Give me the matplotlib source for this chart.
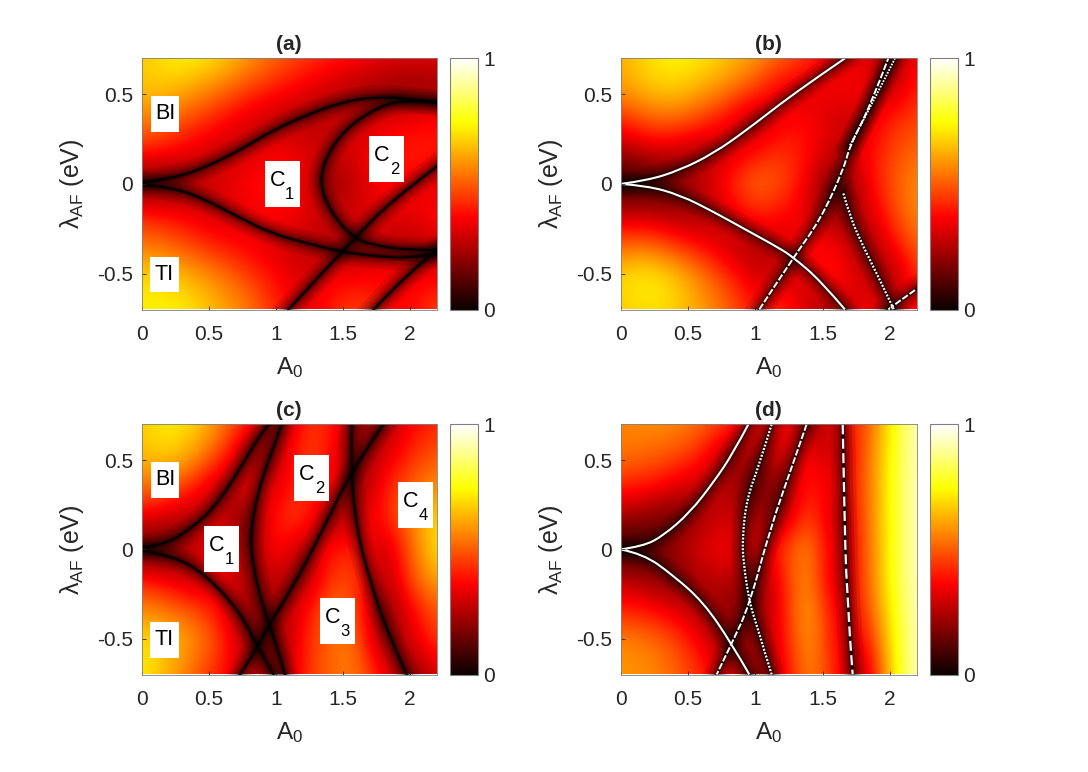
import numpy as np
import matplotlib
matplotlib.use("Agg")
import matplotlib.pyplot as plt
from matplotlib.patches import PathPatch, Rectangle
from matplotlib.path import Path

plt.rcParams['font.family'] = ['Liberation Sans', 'DejaVu Sans']
plt.rcParams['mathtext.fontset'] = 'custom'
plt.rcParams['mathtext.rm'] = 'Liberation Sans'
plt.rcParams['mathtext.default'] = 'regular'

# gap size, on a coarse grid
A0_nodes = [0, 0.2, 0.4, 0.6, 0.8, 1.0, 1.2, 1.4, 1.6, 1.8, 2.0, 2.2]
lam_nodes = [0.7, 0.525, 0.35, 0.175, 0, -0.175, -0.35, -0.525, -0.7]

gap_a = [
    [.66, .72, .74, .68, .60, .52, .46, .42, .38, .34, .33, .33],
    [.66, .66, .60, .54, .46, .40, .34, .28, .24, .20, .18, .20],
    [.56, .52, .46, .38, .30, .26, .24, .27, .28, .33, .35, .38],
    [.42, .38, .32, .27, .30, .36, .34, .28, .33, .38, .42, .40],
    [.12, .14, .24, .33, .38, .40, .34, .18, .28, .38, .36, .30],
    [.42, .38, .33, .28, .34, .38, .34, .28, .32, .33, .32, .40],
    [.55, .52, .46, .40, .35, .30, .28, .24, .22, .28, .25, .28],
    [.70, .68, .62, .55, .46, .38, .30, .35, .36, .38, .36, .35],
    [.72, .74, .70, .62, .55, .42, .32, .40, .48, .38, .35, .48],
]
gap_b = [
    [.62, .70, .74, .72, .66, .60, .52, .44, .28, .36, .22, .36],
    [.60, .66, .68, .62, .56, .46, .32, .30, .38, .36, .24, .42],
    [.42, .50, .52, .46, .35, .22, .35, .38, .28, .28, .42, .47],
    [.22, .30, .28, .22, .28, .38, .45, .38, .28, .35, .46, .52],
    [.04, .05, .15, .28, .42, .54, .48, .34, .08, .32, .48, .58],
    [.28, .28, .22, .22, .30, .42, .38, .30, .18, .26, .44, .58],
    [.52, .54, .46, .38, .28, .22, .30, .40, .38, .18, .34, .52],
    [.70, .74, .68, .56, .44, .30, .28, .30, .42, .30, .18, .44],
    [.66, .70, .68, .60, .52, .38, .46, .28, .20, .38, .30, .38],
]
gap_c = [
    [.66, .74, .68, .56, .42, .16, .42, .44, .20, .22, .36, .42],
    [.65, .68, .60, .46, .16, .24, .48, .40, .18, .30, .42, .50],
    [.54, .52, .42, .22, .35, .30, .45, .40, .16, .40, .50, .58],
    [.36, .28, .22, .30, .14, .42, .48, .18, .30, .40, .55, .70],
    [.08, .12, .30, .40, .14, .45, .20, .40, .42, .24, .50, .72],
    [.42, .34, .24, .35, .24, .28, .20, .45, .48, .20, .48, .62],
    [.58, .55, .50, .35, .18, .22, .35, .55, .48, .14, .35, .50],
    [.72, .66, .58, .45, .20, .16, .40, .52, .56, .16, .30, .45],
    [.72, .62, .50, .38, .28, .16, .42, .52, .55, .38, .14, .32],
]
gap_d = [
    [.56, .58, .58, .52, .46, .28, .40, .16, .35, .45, .72, .95],
    [.54, .52, .48, .42, .20, .24, .28, .38, .25, .48, .74, .95],
    [.42, .40, .34, .26, .26, .14, .18, .44, .30, .48, .75, .95],
    [.24, .18, .12, .22, .32, .20, .22, .52, .22, .48, .75, .95],
    [.02, .08, .24, .33, .38, .26, .46, .60, .25, .46, .75, .95],
    [.28, .22, .14, .24, .28, .14, .40, .62, .22, .46, .75, .95],
    [.42, .40, .34, .22, .20, .16, .38, .66, .30, .42, .72, .95],
    [.58, .55, .48, .36, .16, .20, .36, .64, .34, .32, .70, .95],
    [.58, .58, .52, .42, .32, .16, .32, .60, .40, .20, .68, .95],
]

# gap closing curves, (A0, lambda)
a_upper = [(0, .008), (.236, .03), (.485, .096), (.733, .189), (.982, .30), (1.23, .384), (1.48, .453), (1.73, .486), (1.98, .477), (2.2, .449)]
a_lower = [(0, -.003), (.236, -.02), (.485, -.09), (.733, -.19), (.982, -.28), (1.23, -.33), (1.48, -.378), (1.73, -.402), (1.98, -.415), (2.2, -.39)]
a_arc = [(2.2, .458), (1.98, .464), (1.83, .449), (1.60, .356), (1.43, .226), (1.33, .059), (1.355, -.072), (1.454, -.202), (1.59, -.304), (1.73, -.341), (1.98, -.369), (2.2, -.369)]
a_diag = [(1.094, -.70), (1.48, -.388), (1.59, -.304), (1.85, -.10), (2.2, .096)]
a_corner = [(1.73, -.70), (1.98, -.50), (2.2, -.369)]

b_upper = [(0, 0), (.193, .018), (.441, .077), (.689, .170), (.936, .300), (1.184, .445), (1.432, .579), (1.667, .70)]
b_lower = [(0, 0), (.193, -.010), (.441, -.062), (.689, -.155), (.936, -.258), (1.184, -.36), (1.283, -.41), (1.481, -.536), (1.667, -.70)]
b_diag = [(1.03, -.70), (1.283, -.41), (1.481, -.203), (1.655, .077), (1.704, .215), (1.853, .43), (1.989, .70)]
b_diag2 = [(1.704, .215), (1.878, .458), (2.039, .70)]
b_right = [(1.655, -.053), (1.704, -.183), (1.803, -.35), (1.927, -.536), (2.03, -.70)]
b_corner = [(1.989, -.70), (2.039, -.67), (2.2, -.585)]

c_upper = [(0, .007), (.186, .031), (.360, .114), (.534, .226), (.733, .449), (.858, .616), (.945, .70)]
c_lower = [(0, -.007), (.236, -.034), (.485, -.146), (.733, -.35), (.858, -.536), (.982, -.70)]
c_arc = [(1.044, .70), (.957, .523), (.858, .30), (.808, .077), (.833, -.109), (.907, -.332), (1.007, -.536), (1.069, -.70)]
c_diag = [(.733, -.70), (.858, -.555), (.945, -.425), (1.106, -.239), (1.355, .114), (1.554, .43), (1.802, .70)]
c_right = [(1.566, .70), (1.559, .43), (1.603, .114), (1.703, -.183), (1.852, -.499), (1.976, -.70)]

d_upper = [(0, 0), (.168, .018), (.317, .077), (.515, .207), (.689, .375), (.837, .54), (.949, .70)]
d_lower = [(0, 0), (.168, -.025), (.391, -.146), (.614, -.295), (.825, -.527), (.956, -.70)]
d_arc = [(1.122, .70), (1.035, .486), (.936, .282), (.904, .059), (.912, -.072), (.956, -.295), (1.011, -.425), (1.122, -.70)]
d_diag = [(1.382, .70), (1.283, .486), (1.110, .114), (.956, -.313), (.825, -.527), (.713, -.70)]
d_right = [(1.650, .70), (1.660, .30), (1.679, -.257), (1.724, -.70)]

DOTTED = (0, (0.9, 0.7))
DASHED = (0, (3.5, 1))
LONG = (0, (4.5, 2))

labels_a = [("BI", None, .176, .39), ("TI", None, .17, -.505), ("C", "1", 1.047, 0), ("C", "2", 1.827, .14)]
labels_c = [("BI", None, .176, .39), ("TI", None, .17, -.505), ("C", "1", .597, 0), ("C", "2", 1.268, .397),
            ("C", "3", 1.459, -.40), ("C", "4", 2.04, .248)]

W, H = 1088, 772
FS = 15
GREY = '#262626'


def box(x0, y0, x1, y1):
    return [x0 / W, 1 - y1 / H, (x1 - x0) / W, (y1 - y0) / H]


def smooth(pts):
    # quadratic segments through the midpoints, drawn as a curve by the path renderer
    verts = [pts[0]]
    codes = [Path.MOVETO]
    for i in range(1, len(pts) - 1):
        p, q = pts[i], pts[i + 1]
        end = q if i == len(pts) - 2 else ((p[0] + q[0]) / 2, (p[1] + q[1]) / 2)
        verts += [p, end]
        codes += [Path.CURVE3, Path.CURVE3]
    return Path(verts, codes)


def stroke(ax, pts, **kw):
    ax.add_patch(PathPatch(smooth(pts), fc='none', joinstyle='round', **kw))


def panel(title, gap, rect, cbar_rect, dark, white, labels):
    ax = fig.add_axes(box(*rect))
    dx = A0_nodes[1] - A0_nodes[0]
    dy = lam_nodes[0] - lam_nodes[1]
    im = ax.imshow(np.array(gap), cmap='hot', vmin=0, vmax=1, aspect='auto', interpolation='bicubic',
                   extent=[A0_nodes[0] - dx / 2, A0_nodes[-1] + dx / 2, lam_nodes[-1] - dy / 2, lam_nodes[0] + dy / 2])
    for pts in dark:
        for lw, al in [(18, .10), (13, .12), (9, .15), (5.5, .22), (3, .35)]:
            stroke(ax, pts, ec='k', lw=lw, alpha=al, capstyle='projecting')
        stroke(ax, pts, ec='k', lw=1.3, capstyle='projecting')
    for pts, ls, lw in white:
        stroke(ax, pts, ec='white', lw=lw, ls=ls)
    for txt, sub, x, y in labels:
        bw, bh = (.26, .257) if sub else (.21, .20)
        ax.add_patch(Rectangle((x - bw / 2, y - bh / 2), bw, bh, fc='white', ec='none', zorder=5))
        off = (-3.5, 2.5) if sub else (0, 0)
        ax.annotate(txt, (x, y), xytext=off, textcoords='offset points', fontsize=FS + 0.5, color='k',
                    ha='center', va='center', zorder=6)
        if sub:
            ax.annotate(sub, (x, y), xytext=(5.5, -7.5), textcoords='offset points', fontsize=FS - 3, color='k',
                        ha='center', va='center', zorder=6)
    ax.set_xlim(0, 2.2)
    ax.set_ylim(-0.7, 0.7)
    ax.set_xticks([0, 0.5, 1, 1.5, 2], ['0', '0.5', '1', '1.5', '2'])
    ax.set_yticks([-0.5, 0, 0.5], ['-0.5', '0', '0.5'])
    ax.tick_params(labelsize=FS, colors=GREY, direction='in', length=3, width=0.6, pad=6)
    ax.tick_params(axis='x', pad=11)
    ax.set_xlabel("A$_0$", fontsize=17.5, color=GREY, labelpad=8)
    ax.set_ylabel("λ$_{AF}$ (eV)", fontsize=18, color=GREY, labelpad=8)
    ax.set_title(title, fontsize=FS, fontweight='bold', color=GREY, pad=6)
    for s in ax.spines.values():
        s.set_linewidth(0.6)
        s.set_color('#808080')
    cax = fig.add_axes(box(*cbar_rect))
    cb = fig.colorbar(im, cax=cax, ticks=[0, 1])
    cb.ax.set_yticklabels(['0', '1'])
    cb.ax.tick_params(labelsize=FS, colors=GREY, length=0, pad=4)
    cb.outline.set_edgecolor('#808080')
    cb.outline.set_linewidth(0.8)


fig = plt.figure(figsize=(W / 100, H / 100), dpi=100)

panel("(a)", gap_a, (141.7, 58.3, 436.7, 309.5), (450, 58.3, 477.7, 309.5),
      [a_upper, a_lower, a_arc, a_diag, a_corner], [], labels_a)
panel("(b)", gap_b, (620.7, 58.3, 916.7, 309.5), (930, 58.3, 958, 309.5),
      [b_upper, b_lower, b_diag, b_diag2, b_right, b_corner],
      [(b_upper, '-', 1.5), (b_lower, '-', 1.5), (b_diag, DASHED, 1.4), (b_diag2, DOTTED, 1.4),
       (b_right, DOTTED, 1.6), (b_corner, DASHED, 1.4)], [])
panel("(c)", gap_c, (141.7, 424.3, 436.7, 674.5), (450, 424.3, 477.7, 674.5),
      [c_upper, c_lower, c_arc, c_diag, c_right], [], labels_c)
panel("(d)", gap_d, (620.7, 424.3, 916.7, 674.5), (930, 424.3, 958, 674.5),
      [d_upper, d_lower, d_arc, d_diag, d_right],
      [(d_upper, '-', 1.5), (d_lower, '-', 1.5), (d_arc, DOTTED, 1.6), (d_diag, DASHED, 1.4),
       (d_right, LONG, 1.6)], [])

fig.savefig("out.png", dpi=100)
